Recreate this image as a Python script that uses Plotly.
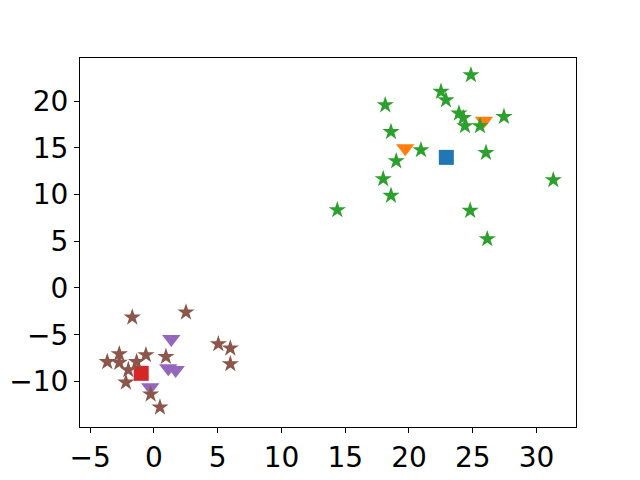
import plotly.graph_objects as go

# Cluster A
centroid_a = ([22.93], [13.97])
tri_a_x = [19.71, 25.88]
tri_a_y = [14.94, 17.90]
star_a_x = [24.86, 22.51, 22.90, 18.14, 23.92, 24.26, 27.45, 24.39, 25.57, 18.59,
            20.94, 26.04, 19.00, 17.98, 31.32, 18.59, 14.38, 24.80, 26.14]
star_a_y = [22.78, 21.00, 20.10, 19.57, 18.68, 18.20, 18.32, 17.33, 17.33, 16.70,
            14.76, 14.47, 13.58, 11.66, 11.55, 9.88, 8.34, 8.27, 5.24]

# Cluster B
centroid_b = ([-1.00], [-9.13])
tri_b_x = [1.36, 1.12, 1.70, -0.29]
tri_b_y = [-5.45, -8.59, -8.77, -10.62]
star_b_x = [-1.70, 2.51, 5.05, 5.99, 5.99, -2.72, -3.66, -2.72, -0.63, -1.36,
            -2.01, 0.94, -2.20, -0.26, 0.47]
star_b_y = [-3.14, -2.60, -5.99, -6.45, -8.13, -7.06, -7.91, -7.99, -7.17, -7.91,
            -8.77, -7.35, -10.09, -11.37, -12.76]

colors = ["#1f77b4", "#ff7f0e", "#2ca02c", "#d62728", "#9467bd", "#8c564b"]

fig = go.Figure()

def add(x, y, symbol, color, size):
    fig.add_trace(go.Scatter(x=x, y=y, mode="markers",
                             marker=dict(symbol=symbol, color=color, size=size,
                                         line=dict(width=0)),
                             showlegend=False))

add(*centroid_a, "square", colors[0], 15)
add(tri_a_x, tri_a_y, "triangle-down", colors[1], 16)
add(star_a_x, star_a_y, "star", colors[2], 13)
add(*centroid_b, "square", colors[3], 15)
add(tri_b_x, tri_b_y, "triangle-down", colors[4], 16)
add(star_b_x, star_b_y, "star", colors[5], 13)

axis_common = dict(showgrid=False, zeroline=False, showline=True, linecolor="black",
                   linewidth=1, mirror=True, ticks="outside", ticklen=5, tickwidth=1,
                   tickcolor="black", tickfont=dict(size=28, color="black"), dtick=5,
                   automargin=False)

# page body has an 8px default margin, so the figure is sized to fit inside
fig.update_layout(
    width=632, height=472,
    margin=dict(l=72, r=64, t=50, b=53, autoexpand=False),
    paper_bgcolor="white", plot_bgcolor="white",
    font=dict(family="DejaVu Sans", size=28, color="black"),
    xaxis=dict(range=[-5.8, 33.1], tick0=0, **axis_common),
    yaxis=dict(range=[-14.87, 24.6], tick0=0, **axis_common),
)

fig.write_html("out.html")
